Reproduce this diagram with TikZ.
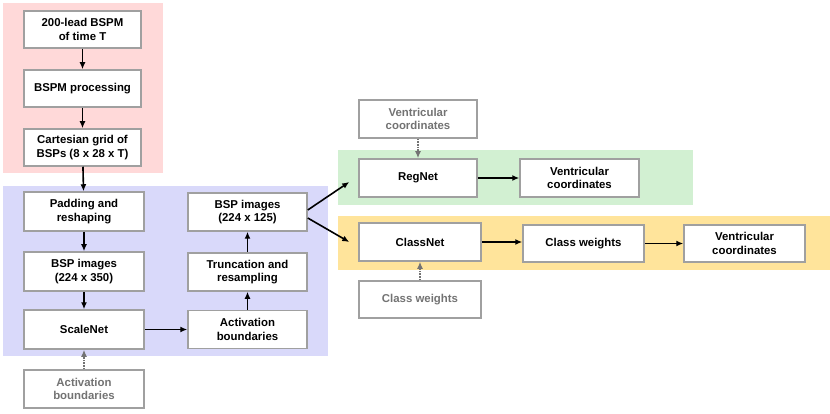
\documentclass[tikz,border=0pt]{standalone}
\usepackage{fontspec}
\setsansfont{Liberation Sans}
\usepackage{tikz}
\usetikzlibrary{arrows.meta}

\definecolor{bgpink}{RGB}{255,217,217}
\definecolor{bgblue}{RGB}{217,217,250}
\definecolor{bggreen}{RGB}{210,240,210}
\definecolor{bgyellow}{RGB}{255,228,155}
\definecolor{boxline}{RGB}{160,160,160}
\definecolor{greytext}{RGB}{115,115,115}

\begin{document}
\begin{tikzpicture}[x=1pt, y=-1pt]
    \tikzstyle{stage} = [rectangle, draw=boxline, line width=1.5pt, fill=white, align=center,
        font=\sffamily\bfseries\fontsize{11.4}{13.5}\selectfont, inner sep=0pt]
    \tikzstyle{stagein} = [stage, text=greytext]
    \tikzstyle{arr} = [-{Latex[length=7pt,width=6pt]}, line width=1.6pt, black]
    \tikzstyle{arrin} = [-{Latex[length=7pt,width=6pt]}, line width=1.6pt, greytext, densely dotted]

    \useasboundingbox (0,0) rectangle (830,414);

    % Backgrounds
    \fill[bgpink] (3,3) rectangle (163,173);
    \fill[bgblue] (3,186) rectangle (328,356);
    \fill[bggreen] (338,150) rectangle (693,205);
    \fill[bgyellow] (338,216) rectangle (830,270);

    % Preprocessing
    \node[stage, minimum width=117pt, minimum height=37pt] (bspm) at (82.5,29.5) {200-lead BSPM\\of time T};
    \node[stage, minimum width=117pt, minimum height=37pt] (proc) at (82.5,88.5) {BSPM processing};
    \node[stage, minimum width=117pt, minimum height=37pt] (grid) at (82.5,147.5) {Cartesian grid of\\BSPs (8 x 28 x T)};

    % Scaling
    \node[stage, minimum width=120pt, minimum height=39pt] (pad) at (84,211.5) {Padding and\\reshaping};
    \node[stage, minimum width=120pt, minimum height=39pt] (img1) at (84,271.5) {BSP images\\(224 x 350)};
    \node[stage, minimum width=120pt, minimum height=39pt] (scale) at (84,329.5) {ScaleNet};
    \node[stagein, minimum width=120pt, minimum height=38pt] (actin) at (84,389) {Activation\\boundaries};
    \node[stage, minimum width=119pt, minimum height=38pt] (act) at (247.5,329.5) {Activation\\boundaries};
    \node[stage, minimum width=119pt, minimum height=38pt] (trunc) at (247.5,272) {Truncation and\\resampling};
    \node[stage, minimum width=119pt, minimum height=38pt] (img2) at (247.5,212) {BSP images\\(224 x 125)};

    % Regression
    \node[stagein, minimum width=118pt, minimum height=38pt] (vcin) at (418,119) {Ventricular\\coordinates};
    \node[stage, minimum width=118pt, minimum height=38pt] (reg) at (418,178) {RegNet};
    \node[stage, minimum width=119pt, minimum height=38pt] (vc1) at (579.5,178) {Ventricular\\coordinates};

    % Classification
    \node[stage, minimum width=122pt, minimum height=38pt] (cls) at (420,242) {ClassNet};
    \node[stage, minimum width=121pt, minimum height=37pt] (cw) at (583.5,243.5) {Class weights};
    \node[stage, minimum width=121pt, minimum height=37pt] (vc2) at (744.5,243.5) {Ventricular\\coordinates};
    \node[stagein, minimum width=122pt, minimum height=37pt] (cwin) at (420,299.5) {Class weights};

    % Arrows
    \draw[arr] (bspm) -- (proc);
    \draw[arr] (proc) -- (grid);
    \draw[arr] (grid) -- (pad);
    \draw[arr] (pad) -- (img1);
    \draw[arr] (img1) -- (scale);
    \draw[arr] (scale) -- (act);
    \draw[arr] (act) -- (trunc);
    \draw[arr] (trunc) -- (img2);
    \draw[arr] ([yshift=2pt]img2.east) -- ([xshift=-9pt,yshift=-4pt]reg.west);
    \draw[arr] ([yshift=-6pt]img2.east) -- ([xshift=-9pt]cls.west);
    \draw[arr] (reg) -- (vc1);
    \draw[arr] (cls.east) -- ([yshift=1.5pt]cw.west);
    \draw[arr] (cw) -- (vc2);

    % Inputs
    \draw[arrin] (actin) -- (scale);
    \draw[arrin] (vcin) -- (reg);
    \draw[arrin] (cwin) -- (cls);
\end{tikzpicture}
\end{document}
